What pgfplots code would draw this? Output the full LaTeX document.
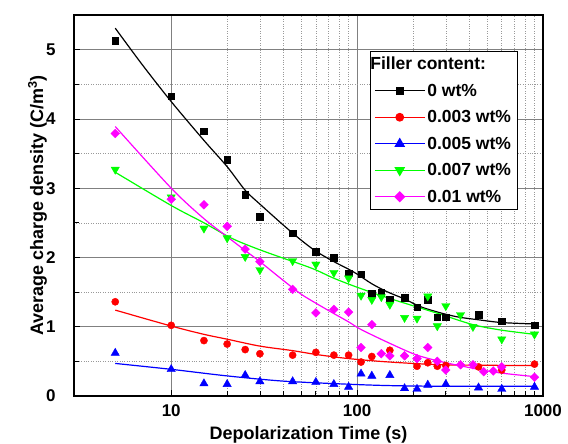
\documentclass[border=0pt]{standalone}
\usepackage{fontspec}
\setmainfont{Liberation Sans}
\usepackage{pgfplots}
\pgfplotsset{compat=1.18}
\definecolor{cgreen}{RGB}{0,255,0}
\definecolor{cred}{RGB}{255,0,0}
\definecolor{cblue}{RGB}{0,0,255}
\definecolor{cmag}{RGB}{255,0,255}
\begin{document}
\begin{tikzpicture}
\useasboundingbox (0,0) rectangle (568pt,444pt);
\begin{axis}[
  at={(74pt,48pt)}, anchor=south west,
  scale only axis, width=469pt, height=381pt,
  xmode=log, xmin=3, xmax=1000, ymin=0, ymax=5.5,
  xtick={10,100,1000}, xticklabels={10,100,1000},
  ytick={0,1,2,3,4,5},
  minor ytick={0.5,1.5,2.5,3.5,4.5},
  grid=both,
  major grid style={black!50, line width=0.6pt},
  minor grid style={black!40, dotted, line width=0.6pt},
  tick pos=left,
  tick align=inside,
  axis line style={line width=1.6pt},
  tick style={black, line width=0.8pt},
  major tick length=6pt, minor tick length=5pt,
  /pgf/number format/assume math mode=true,
  ticklabel style={font=\bfseries\fontsize{17}{20}\selectfont},
  yticklabel style={xshift=-15pt},
  xticklabel style={yshift=-5pt},
  xlabel={Depolarization Time (s)},
  ylabel={Average charge density (C/m\textsuperscript{3})},
  label style={font=\bfseries\fontsize{18}{21}\selectfont},
  xlabel style={at={(axis description cs:0.5,-0.114)}, anchor=base},
  ylabel style={at={(axis description cs:-0.066,0.5)}, anchor=base},
  legend style={at={(0.945,0.905)}, anchor=north east, draw=black,
    font=\bfseries\fontsize{17.5}{20}\selectfont, cells={anchor=west},
    inner xsep=4pt, inner ysep=3.5pt, row sep=8.8pt},
  legend image code/.code={\draw[mark repeat=2,mark phase=2,#1] plot coordinates {(0pt,0pt) (25pt,0pt) (50pt,0pt)};},
]
% fit curves
\addplot[black, line width=1.2pt, smooth, forget plot] coordinates {
(5,5.31)(7,4.78)(10,4.25)(15,3.69)(20,3.31)(25,2.97)(30,2.77)(40,2.47)(50,2.25)(60,2.09)(75,1.94)(90,1.83)(100,1.76)(120,1.62)(145,1.505)(180,1.40)(219,1.29)(281,1.20)(350,1.14)(450,1.10)(600,1.06)(900,1.04)};
\addplot[cred, line width=1.2pt, smooth, forget plot] coordinates {
(5,1.24)(10,1.01)(15,0.89)(20,0.82)(30,0.72)(45,0.655)(60,0.60)(90,0.54)(150,0.49)(300,0.45)(900,0.44)};
\addplot[cblue, line width=1.2pt, smooth, forget plot] coordinates {
(5,0.47)(10,0.385)(20,0.29)(40,0.215)(90,0.17)(150,0.15)(300,0.14)(900,0.14)};
\addplot[cgreen, line width=1.2pt, smooth, forget plot] coordinates {
(5,3.23)(10,2.75)(15,2.50)(20,2.31)(23.6,2.22)(30,2.11)(40,1.99)(50,1.90)(60,1.82)(75,1.70)(100,1.57)(145,1.42)(219,1.27)(281,1.18)(420,1.03)(600,0.95)(900,0.89)};
\addplot[cmag, line width=1.2pt, smooth, forget plot] coordinates {
(5,3.89)(10,3.00)(15,2.56)(20,2.30)(25,2.10)(30,1.94)(40,1.67)(50,1.47)(60,1.34)(75,1.19)(90,1.07)(105,0.96)(150,0.76)(210,0.59)(300,0.48)(450,0.385)(600,0.33)(900,0.28)};
% data
\addplot[only marks, mark=square*, mark size=3.3pt, black, forget plot] coordinates {
(5,5.13)(10,4.33)(15,3.82)(20,3.41)(25,2.91)(30,2.59)(45,2.35)(60,2.08)(75,2.00)(90,1.77)(105,1.76)(120,1.48)(135,1.49)(150,1.40)(180,1.42)(210,1.28)(240,1.39)(270,1.14)(300,1.14)(450,1.17)(600,1.08)(900,1.02)};
\addplot[only marks, mark=*, mark size=3.6pt, cred, forget plot] coordinates {
(5,1.36)(10,1.02)(15,0.80)(20,0.75)(25,0.67)(30,0.61)(45,0.59)(60,0.63)(75,0.59)(90,0.59)(105,0.49)(120,0.57)(150,0.66)(210,0.43)(240,0.48)(270,0.43)(300,0.44)(450,0.42)(600,0.375)(900,0.46)};
\addplot[only marks, mark=triangle*, mark size=4.8pt, cblue, forget plot] coordinates {
(5,0.62)(10,0.385)(15,0.18)(20,0.17)(25,0.30)(30,0.21)(45,0.21)(60,0.20)(75,0.17)(90,0.13)(105,0.32)(120,0.29)(150,0.30)(180,0.11)(210,0.10)(240,0.16)(300,0.17)(450,0.12)(600,0.10)(900,0.13)};
\addplot[only marks, mark=triangle*, mark size=4.8pt, mark options={rotate=180}, cgreen, forget plot] coordinates {
(5,3.27)(10,2.87)(15,2.42)(20,2.28)(25,2.01)(30,1.82)(45,1.95)(60,1.90)(75,1.78)(90,1.70)(105,1.45)(120,1.39)(135,1.43)(150,1.32)(180,1.13)(210,1.12)(240,1.44)(270,1.01)(300,1.30)(360,1.17)(420,1.00)(600,0.82)(900,0.89)};
\addplot[only marks, mark=square*, mark size=3.1pt, mark options={rotate=45}, cmag, forget plot] coordinates {
(5,3.79)(10,2.84)(15,2.76)(20,2.45)(25,2.12)(30,1.94)(45,1.54)(60,1.20)(75,1.25)(90,1.21)(105,0.70)(120,1.03)(135,0.61)(150,0.58)(180,0.58)(210,0.54)(240,0.70)(270,0.50)(300,0.375)(360,0.45)(420,0.45)(480,0.35)(540,0.36)(600,0.42)(900,0.27)};
% legend
\addlegendimage{empty legend}
\addlegendentry{\hspace*{-57pt}Filler content:}
\addlegendimage{black, line width=1.2pt, mark=square*, mark size=3.5pt}
\addlegendentry{0 wt\%}
\addlegendimage{cred, line width=1.2pt, mark=*, mark size=3.8pt}
\addlegendentry{0.003 wt\%}
\addlegendimage{cblue, line width=1.2pt, mark=triangle*, mark size=5pt}
\addlegendentry{0.005 wt\%}
\addlegendimage{cgreen, line width=1.2pt, mark=triangle*, mark size=5pt, mark options={rotate=180}}
\addlegendentry{0.007 wt\%}
\addlegendimage{cmag, line width=1.2pt, mark=square*, mark size=3.4pt, mark options={rotate=45}}
\addlegendentry{0.01 wt\%}
\end{axis}
\end{tikzpicture}
\end{document}
